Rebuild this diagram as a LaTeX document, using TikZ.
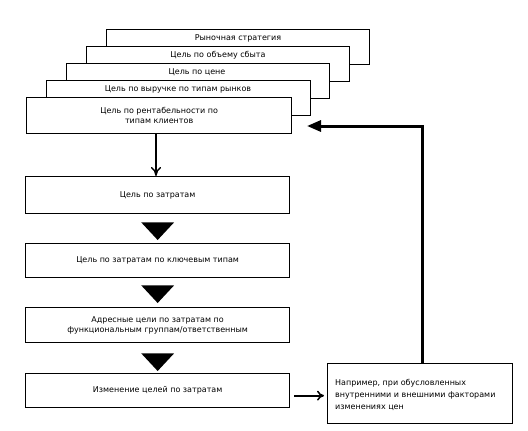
\documentclass[tikz,border=0pt]{standalone}
\usepackage{fontspec}
\setmainfont{DejaVu Sans}
\usetikzlibrary{arrows.meta,calc}
\tikzset{
  goal/.style={draw=black, line width=1.3pt, fill=white, anchor=north west, minimum height=35pt, inner sep=0pt},
  txt/.style={font=\fontsize{8}{10}\selectfont, align=center, inner sep=0pt},
  tri/.style={fill=black},
  thinarrow/.style={line width=1.8pt, -{To[length=9pt,width=10pt,line width=1.4pt]}},
  fbline/.style={line width=3pt, -{Triangle[length=14pt,width=11pt]}},
  sidearrow/.style={line width=2.2pt, -{To[length=7pt,width=10pt,line width=1.5pt]}}
}
\begin{document}
\begin{tikzpicture}[x=1pt,y=1pt]
\useasboundingbox (0,0) rectangle (528,-431);
% stacked market strategy boxes
\node[goal, minimum width=263pt] (s1) at (106,-29) {};
\node[txt] (t1) at (238,-38) {Рыночная стратегия};
\node[goal, minimum width=263pt] (s2) at (86,-46) {};
\node[txt] (t2) at (218,-55) {Цель по объему сбыта};
\node[goal, minimum width=263pt] (s3) at (66,-63) {};
\node[txt] (t3) at (197,-72) {Цель по цене};
\node[goal, minimum width=264pt] (s4) at (46,-80) {};
\node[txt] (t4) at (178,-89) {Цель по выручке по типам рынков};
\node[goal, minimum width=265pt, minimum height=36pt] (s5) at (26,-97) {};
\node[txt] (t5) at (s5.center) {Цель по рентабельности по\\типам клиентов};
% cost chain
\node[goal, minimum width=264pt, minimum height=37pt] (b6) at (25,-176) {};
\node[txt] (t6) at (b6.center) {Цель по затратам};
\node[goal, minimum width=264pt, minimum height=34pt] (b7) at (25,-243) {};
\node[txt] (t7) at (b7.center) {Цель по затратам по ключевым типам};
\node[goal, minimum width=264pt, minimum height=35pt] (b8) at (25,-307) {};
\node[txt] (t8) at (b8.center) {Адресные цели по затратам по\\функциональным группам/ответственным};
\node[goal, minimum width=264pt, minimum height=34pt] (b9) at (25,-373) {};
\node[txt] (t9) at (b9.center) {Изменение целей по затратам};
\node[goal, minimum width=185pt, minimum height=60pt] (side) at (327,-363) {};
\node[txt, align=left, anchor=west, font=\fontsize{8}{12}\selectfont] (ts) at (335,-395) {Например, при обусловленных\\внутренними и внешними факторами\\изменениях цен};
% connectors
\draw[thinarrow] (s5.south -| 156,0) -- (b6.north -| 156,0);
\fill[tri] ($(b6.south)+(-16.5,-8)$) -- ($(b6.south)+(16.5,-8)$) -- ($(b7.north)+(0,3)$) -- cycle;
\fill[tri] ($(b7.south)+(-16.5,-7)$) -- ($(b7.south)+(16.5,-7)$) -- ($(b8.north)+(0,4)$) -- cycle;
\fill[tri] ($(b8.south)+(-16.5,-10)$) -- ($(b8.south)+(16.5,-10)$) -- ($(b9.north)+(0,2)$) -- cycle;
\draw[sidearrow] ($(b9.east)+(4,-5)$) -- ($(side.west)+(-3,-2)$);
\coordinate (fbend) at (307,-126);
\draw[fbline] (side.north -| 422,0) |- (fbend);
\end{tikzpicture}
\end{document}
